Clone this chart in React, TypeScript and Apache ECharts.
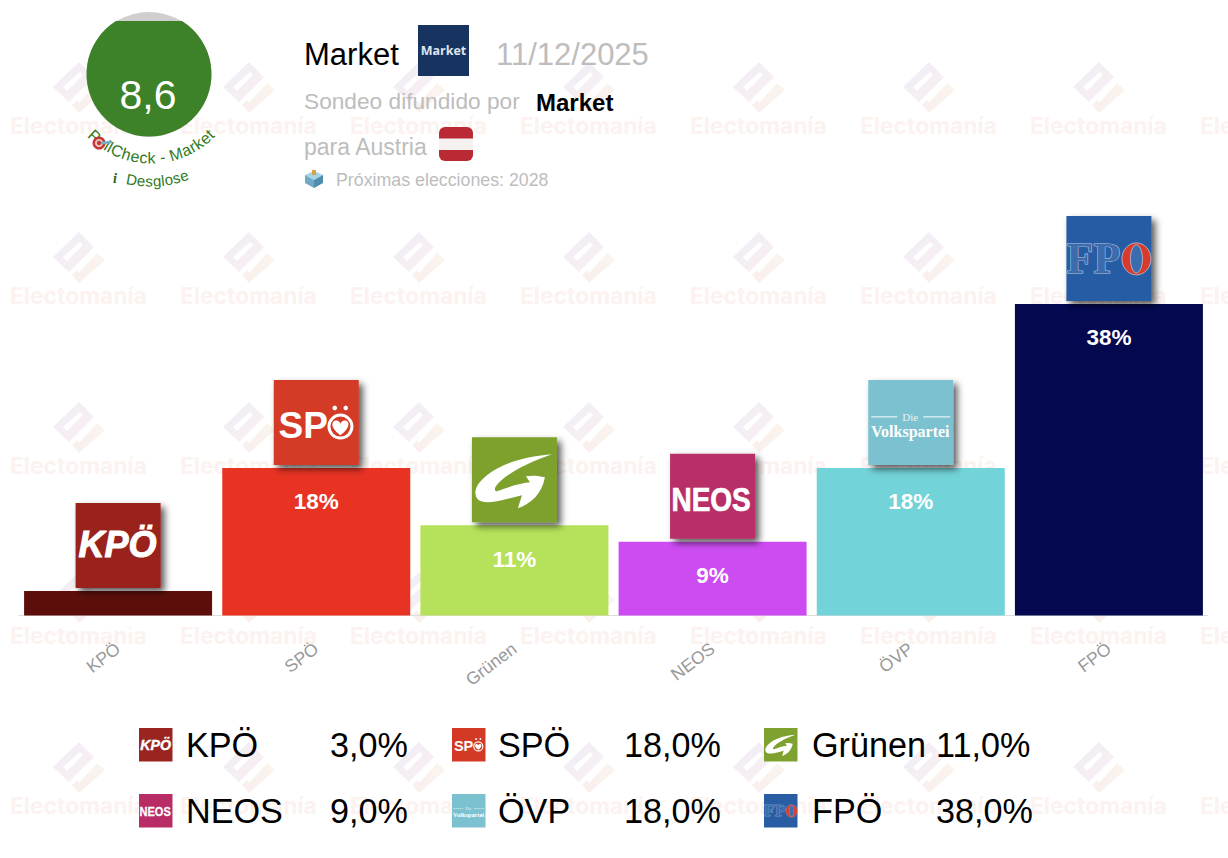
import React, { useEffect, useRef } from "react";
import * as echarts from "echarts";

const parties = ["KPÖ", "SPÖ", "Grünen", "NEOS", "ÖVP", "FPÖ"];
const values = [3, 18, 11, 9, 18, 38];
const barColors = ["#5c0f0a", "#e83323", "#b5e25a", "#cd4cf2", "#72d3d8", "#04084f"];
const logoColors = ["#9a241f", "#d33a25", "#7ea12f", "#b82d66", "#7cc1cf", "#285ca3"];
const pollster = "Market";
const pollDate = "11/12/2025";
const score = "8,6";

const SANS = "'Liberation Sans', Arial, sans-serif";
const SERIF = "'Liberation Serif', serif";

echarts.graphic.registerShape("wmDiamond", echarts.graphic.extendPath(
  "M0,-25 L15,-10 L-10,15 L-26,0 Z M-16,0 L-12,4 L4,-12 L1,-15 Z", {}));
echarts.graphic.registerShape("wmHook", echarts.graphic.extendPath(
  "M18,-4 L26,3 L0,26 L-7,18 L-2,13 L0,16 Z", {}));
echarts.graphic.registerShape("gauge", echarts.graphic.extendPath(
  "M116,21 L182,21 A62.5,62.5 0 1 1 116,21 Z", {}));
echarts.graphic.registerShape("swoosh", echarts.graphic.extendPath(
  "M80,17 C58,19 32,24 15,38 C5,46 1,54 5,61 C10,68 25,64 34,62 L50,58 L46,71 C60,66 70,56 73,40 C66,38 60,38 54,39 L58,45 C47,46 36,50 25,54 C23,54 22,52 24,49 C32,38 52,27 80,17 Z", {}));
echarts.graphic.registerShape("heart", echarts.graphic.extendPath(
  "M0,8 C-10,1 -9,-6 -4,-6 C-2,-6 0,-4 0,-3 C0,-4 2,-6 4,-6 C9,-6 10,1 0,8 Z", {}));

const label = (text: string, x: number, y: number, font: string, fill: string, extra: any = {}) => ({
  type: "text",
  x,
  y,
  ...extra,
  style: { text, x: 0, y: 0, font, fill, align: "center", verticalAlign: "middle", ...(extra.style || {}) },
});

const leftText = (text: string, x: number, y: number, font: string, fill: string, z = 10) => ({
  type: "text",
  x,
  y,
  z,
  style: { text, x: 0, y: 0, font, fill, align: "left", verticalAlign: "middle" },
});

function logoInner(i: number): any[] {
  const white = "#ffffff";
  switch (i) {
    case 0:
      return [label("KPÖ", 42, 42, `italic bold 36px ${SANS}`, white, { style: { stroke: white, lineWidth: 1 } })];
    case 1:
      return [
        label("SP", 29.5, 46, `bold 37px ${SANS}`, white),
        { type: "ellipse", shape: { cx: 66.7, cy: 46.7, rx: 11.5, ry: 11.5 }, style: { fill: "none", stroke: white, lineWidth: 3 } },
        { type: "circle", shape: { cx: 61, cy: 28, r: 2.3 }, style: { fill: white } },
        { type: "circle", shape: { cx: 72, cy: 28, r: 2.3 }, style: { fill: white } },
        { type: "heart", x: 66.7, y: 47, scaleX: 1.05, scaleY: 1.05, style: { fill: white } },
      ];
    case 2:
      return [{ type: "swoosh", style: { fill: white } }];
    case 3:
      return [label("NEOS", 41, 46, `bold 28px ${SANS}`, white, { scaleY: 1.2, style: { stroke: white, lineWidth: 0.6 } })];
    case 4:
      return [
        { type: "line", shape: { x1: 3, y1: 37, x2: 29, y2: 37 }, style: { stroke: white, lineWidth: 1 } },
        { type: "line", shape: { x1: 55, y1: 37, x2: 82, y2: 37 }, style: { stroke: white, lineWidth: 1 } },
        label("Die", 42, 37, `11px ${SERIF}`, "#e6f3f5"),
        label("Volkspartei", 42, 52, `bold 16px ${SERIF}`, white),
      ];
    default:
      return [
        label("FP", 27, 43, `bold 44px ${SERIF}`, "#3a6cae", { style: { stroke: "#b8c6dd", lineWidth: 1.2 } }),
        { type: "ellipse", shape: { cx: 70, cy: 43, rx: 14.5, ry: 16 }, style: { fill: "#d93a2b", stroke: "#b8c6dd", lineWidth: 0.8 } },
        { type: "ellipse", shape: { cx: 70, cy: 43, rx: 6, ry: 14 }, style: { fill: "#3a6cae", stroke: "#b8c6dd", lineWidth: 0.8 } },
      ];
  }
}

function logo(i: number, x: number, y: number, size: number, shadow: boolean, z?: number): any {
  const s = size / 85;
  return {
    type: "group",
    x,
    y,
    scaleX: s,
    scaleY: s,
    z,
    children: [
      {
        type: "rect",
        shape: { x: 0, y: 0, width: 85, height: 85 },
        style: shadow
          ? { fill: logoColors[i], shadowBlur: 7, shadowOffsetX: 4, shadowOffsetY: 4, shadowColor: "rgba(0,0,0,0.65)" }
          : { fill: logoColors[i] },
      },
      ...logoInner(i),
    ],
  };
}

function arcText(str: string, cx: number, cy: number, r: number, midDeg: number, font: string, fill: string): any[] {
  const ctx = document.createElement("canvas").getContext("2d")!;
  ctx.font = font;
  const total = ctx.measureText(str).width;
  let run = 0;
  const out: any[] = [];
  for (const ch of str) {
    const w = ctx.measureText(ch).width;
    const a = ((midDeg * Math.PI) / 180) + (total / 2 - (run + w / 2)) / r;
    run += w;
    if (ch !== " ") {
      out.push({
        type: "text",
        x: cx + r * Math.cos(a),
        y: cy + r * Math.sin(a),
        rotation: Math.PI / 2 - a,
        z: 10,
        style: { text: ch, x: 0, y: 0, font, fill, align: "center", verticalAlign: "middle" },
      });
    }
  }
  return out;
}

function watermarks(): any[] {
  const out: any[] = [];
  const diamondFill = new echarts.graphic.LinearGradient(0, 0, 1, 1, [
    { offset: 0, color: "#f0edf8" },
    { offset: 1, color: "#f9eff0" },
  ]);
  const hookFill = new echarts.graphic.LinearGradient(1, 0, 0, 1, [
    { offset: 0, color: "#faf4ee" },
    { offset: 1, color: "#f9efed" },
  ]);
  for (let row = 0; row < 5; row++) {
    for (let col = 0; col < 8; col++) {
      const x = 79 + col * 170;
      const y = 87 + row * 170;
      out.push({ type: "wmDiamond", x, y, z: -10, style: { fill: diamondFill, fillRule: "evenodd" } });
      out.push({ type: "wmHook", x, y, z: -10, style: { fill: hookFill } });
      out.push({
        type: "text",
        x: x - 69,
        y: y + 38,
        z: -10,
        style: { text: "Electomanía", x: 0, y: 0, font: "bold 22.8px Inter, Roboto, sans-serif", fill: "#fcf2ef", align: "left", verticalAlign: "middle" },
      });
    }
  }
  return out;
}

function header(): any[] {
  const grey = "#bdbdbd";
  return [
    { type: "circle", z: 8, shape: { cx: 149, cy: 74.5, r: 62.5 }, style: { fill: "#cfcfcf" } },
    { type: "gauge", z: 9, style: { fill: "#3d8128" } },
    { type: "text", x: 148, y: 95, z: 10, style: { text: score, x: 0, y: 0, font: `41px ${SANS}`, fill: "#ffffff", align: "center", verticalAlign: "middle" } },
    ...arcText("PollCheck - Market", 151, 74, 84, 90, `16px ${SANS}`, "#2f7a22"),
    { type: "circle", z: 11, shape: { cx: 99, cy: 143, r: 6.5 }, style: { fill: "#c23a3a" } },
    { type: "circle", z: 11, shape: { cx: 99, cy: 143, r: 4 }, style: { fill: "#efc9c4" } },
    { type: "circle", z: 11, shape: { cx: 99, cy: 143, r: 2.2 }, style: { fill: "#c23a3a" } },
    { type: "line", z: 11, shape: { x1: 101, y1: 143, x2: 112, y2: 142 }, style: { stroke: "#6fb2c9", lineWidth: 2.5 } },
    ...arcText("Desglose", 150, 74, 107, 86, `15px ${SANS}`, "#2f7a22"),
    { type: "text", x: 115, y: 178, z: 10, style: { text: "i", x: 0, y: 0, font: `italic bold 14px ${SERIF}`, fill: "#23601a", align: "center", verticalAlign: "middle" } },

    leftText(pollster, 304, 54, `31px ${SANS}`, "#000000"),
    { type: "rect", z: 10, shape: { x: 418, y: 25, width: 51, height: 51 }, style: { fill: "#17335f" } },
    { type: "text", x: 443.5, y: 50.5, z: 11, style: { text: pollster, x: 0, y: 0, font: "bold 12.5px 'Open Sans', sans-serif", fill: "#dfe6ef", align: "center", verticalAlign: "middle" } },
    leftText(pollDate, 496, 54, `31px ${SANS}`, grey),
    leftText("Sondeo difundido por", 304, 101, `22.7px ${SANS}`, grey),
    leftText(pollster, 536, 102, `bold 24px ${SANS}`, "#000000"),
    leftText("para Austria", 304, 147, `23px ${SANS}`, grey),
    { type: "rect", z: 10, shape: { x: 439, y: 127, width: 34, height: 34, r: 6 }, style: { fill: "#b92a35" } },
    { type: "rect", z: 11, shape: { x: 439, y: 138.5, width: 34, height: 11.5 }, style: { fill: "#f6f1f1" } },
    { type: "polygon", z: 10, shape: { points: [[305, 175], [314, 171], [323, 175], [314, 180]] }, style: { fill: "#a7d3e6" } },
    { type: "polygon", z: 10, shape: { points: [[305, 175], [314, 180], [314, 188], [305, 183]] }, style: { fill: "#6fa9c6" } },
    { type: "polygon", z: 10, shape: { points: [[323, 175], [314, 180], [314, 188], [323, 183]] }, style: { fill: "#4f8cae" } },
    { type: "rect", z: 11, shape: { x: 312, y: 170, width: 4, height: 5 }, style: { fill: "#d9a04e" } },
    leftText("Próximas elecciones: 2028", 336, 180, `17.8px ${SANS}`, grey),
  ];
}

function legend(): any[] {
  const order = [
    { x: 139, tx: 186, px: 330 },
    { x: 452, tx: 498, px: 624 },
    { x: 764, tx: 812, px: 936 },
  ];
  const rows = [745, 811];
  const out: any[] = [];
  parties.forEach((name, i) => {
    const c = order[i % 3];
    const y = rows[Math.floor(i / 3)];
    out.push(logo(i, c.x, y - 17, 33.5, false, 10));
    out.push(leftText(name, c.tx, y, `34.2px ${SANS}`, "#000000"));
    out.push(leftText(`${values[i].toFixed(1).replace(".", ",")}%`, c.px, y, `34.2px ${SANS}`, "#000000"));
  });
  return out;
}

export default function App() {
  const ref = useRef<HTMLDivElement>(null);
  useEffect(() => {
    const chart = echarts.init(ref.current!, null, { renderer: "svg" });
    chart.setOption({
      animation: false,
      backgroundColor: "#ffffff",
      grid: { left: 19, right: 20, top: 205.5, bottom: 242.5 },
      xAxis: {
        type: "category",
        data: parties,
        axisTick: { show: false },
        axisLine: { lineStyle: { color: "#dddddd", width: 1 } },
        axisLabel: { rotate: 37, color: "#999999", fontSize: 17.5, fontFamily: SANS, margin: 31, interval: 0 },
      },
      yAxis: { type: "value", min: 0, max: 50, show: false },
      graphic: { elements: [...watermarks(), ...header(), ...legend()] },
      series: [
        {
          type: "bar",
          barWidth: 188,
          z: 2,
          data: values.map((v, i) => ({ value: v, itemStyle: { color: barColors[i] } })),
          label: {
            show: true,
            position: "insideTop",
            distance: 22.5,
            color: "#ffffff",
            fontFamily: SANS,
            fontWeight: "bold",
            fontSize: 22.5,
            formatter: (p: any) => `${p.value}%`,
          },
        },
        {
          type: "custom",
          z: 5,
          clip: false,
          silent: true,
          data: values.map((v, i) => [i, v]),
          renderItem: (params: any, api: any) => {
            const p = api.coord([api.value(0), api.value(1)]);
            return logo(params.dataIndex, p[0] - 42.5, p[1] - 88, 85, true);
          },
        },
      ],
    });
    return () => chart.dispose();
  }, []);
  return <div ref={ref} style={{ position: "absolute", left: 0, top: 0, width: 1228, height: 858 }} />;
}
